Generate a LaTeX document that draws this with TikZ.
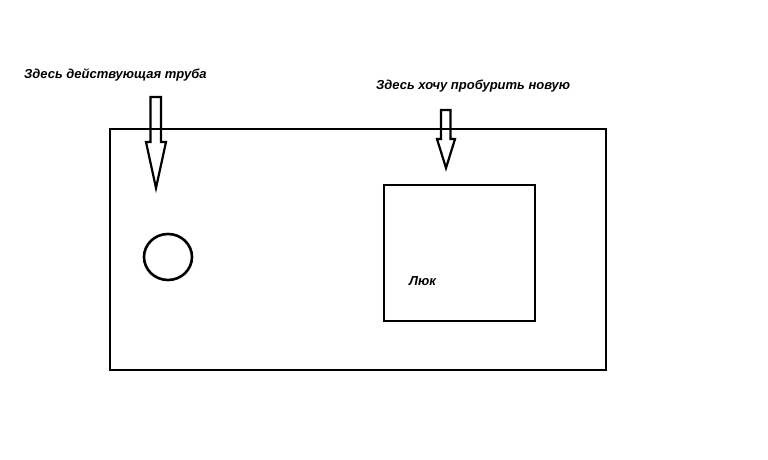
\documentclass[tikz,border=0pt]{standalone}
\usepackage{fontspec}
\setmainfont{Liberation Sans}
\usepackage{tikz}
\usetikzlibrary{shapes.geometric}

\begin{document}
\begin{tikzpicture}[x=1pt,y=-1pt,
    label text/.style={font=\bfseries\itshape\fontsize{13}{15}\selectfont,inner sep=0pt,anchor=west},
    outline/.style={draw=black,line width=2.6pt,inner sep=0pt},
    block arrow/.style={draw=black,line width=2.2pt,line join=miter}]
      \useasboundingbox (0,0) rectangle (768,460);
      % sklad
      \draw[outline,line width=2.8pt] (110,129) rectangle (606,370);
      \node[outline,ellipse,minimum width=48,minimum height=46] (pipe) at (168,257) {};
      \node[outline,minimum width=151,minimum height=136] (hatch) at (459.5,253) {};
      \node[label text] (hatchname) at (409,281) {Люк};
      % podpisi
      \node[label text] (oldpipe) at (24,74.5) {Здесь действующая труба};
      \node[label text] (newpipe) at (376,86.5) {Здесь хочу пробурить новую};
      % strelki
      \draw[block arrow] (150.5,97) -- (161,97) -- (161,142) -- (166,142) -- (156,188) -- (146,142) -- (150.5,142) -- cycle;
      \draw[block arrow] (441,110) -- (450.5,110) -- (450.5,139) -- (455,139) -- (446,168) -- (437,139) -- (441,139) -- cycle;
    	\end{tikzpicture}
\end{document}
